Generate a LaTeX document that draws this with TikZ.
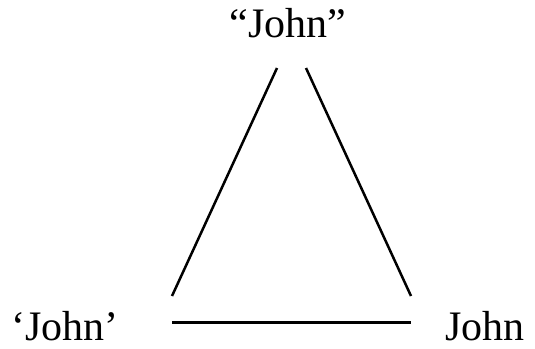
\documentclass[tikz,border=0pt]{standalone}
\usepackage{fontspec}
\setmainfont{Liberation Serif}
\usetikzlibrary{positioning}
\tikzset{
  word/.style={anchor=base,inner sep=0pt,font=\fontsize{42}{48}\selectfont},
  side/.style={line width=2.5pt,black}
}

\begin{document}
\begin{tikzpicture}[x=1pt,y=-1pt]
    \useasboundingbox (0,0) rectangle (535,348);
    \node[word] (quoted) at (288,37) {``John''};
    \node[word] (named) at (65,340) {`John'};
    \node[word] (person) at (485,340) {John};
    % ends of the three sides
    \coordinate (lefttop) at (277,68);
    \coordinate (leftfoot) at (172,296);
    \coordinate (righttop) at (306,68);
    \coordinate (rightfoot) at (411,296);
    \coordinate (baseleft) at (172,322.5);
    \coordinate (baseright) at (411,322.5);
    \draw[side] (leftfoot) -- (lefttop);
    \draw[side] (righttop) -- (rightfoot);
    \draw[side] (baseleft) -- (baseright);
  \end{tikzpicture}
\end{document}
